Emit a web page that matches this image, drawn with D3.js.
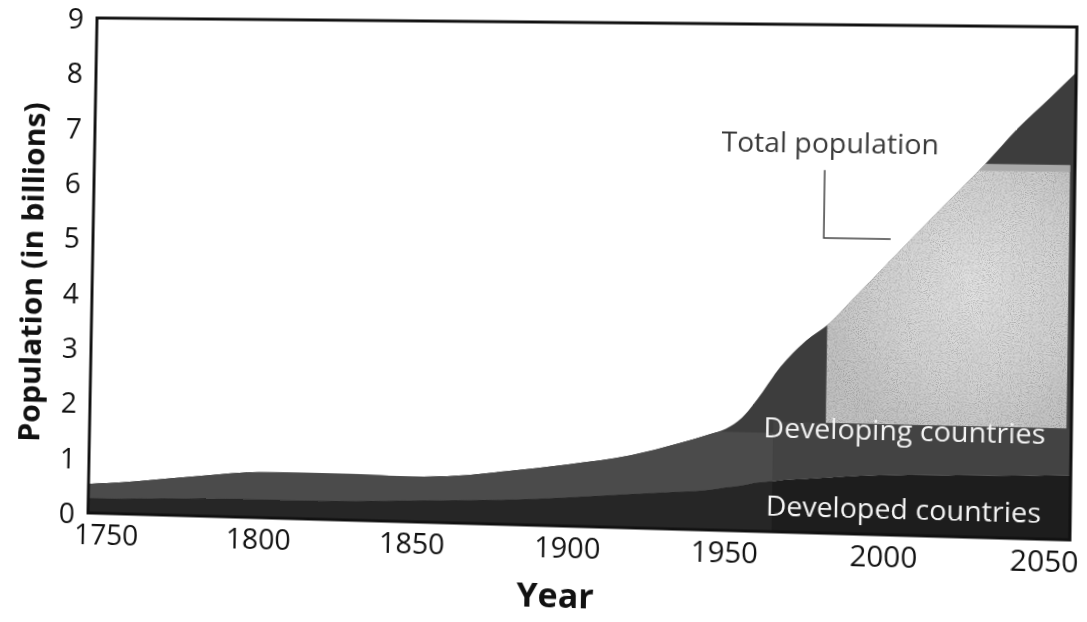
<!DOCTYPE html>
<html>
<head>
<meta charset="utf-8">
<script src="https://cdn.jsdelivr.net/npm/d3@7"></script>
<style>
  html, body { margin: 0; padding: 0; background: #fff; overflow: hidden; }
  #wrap { position: absolute; left: 0; top: 0; width: 1087px; height: 622px; transform-origin: 0 0; }
  svg { display: block; }
  text { font-family: "Open Sans", "Noto Sans", sans-serif; }
</style>
</head>
<body>
<div id="wrap"></div>
<script>
// ---------------- data ----------------
const years = [1744, 1750, 1770, 1785, 1800, 1815, 1830, 1850, 1865, 1880, 1900, 1920, 1935, 1945, 1950,
               1955, 1960, 1963, 1966, 1970, 1975, 1982, 1990, 2000, 2010, 2020, 2030, 2040, 2050, 2058];
const developedValues = [0.27, 0.27, 0.30, 0.32, 0.33, 0.33, 0.34, 0.38, 0.41, 0.44, 0.51, 0.60, 0.66, 0.71, 0.76,
                         0.80, 0.86, 0.88, 0.90, 0.93, 0.95, 0.98, 1.02, 1.05, 1.07, 1.08, 1.09, 1.10, 1.12, 1.13];
const developingValues = [0.26, 0.28, 0.36, 0.43, 0.49, 0.50, 0.49, 0.43, 0.44, 0.51, 0.59, 0.69, 0.86, 0.99, 1.04,
                          1.20, 1.49, 1.72, 1.95, 2.19, 2.45, 2.72, 3.16, 3.73, 4.31, 4.89, 5.47, 6.10, 6.63, 7.07];
const seriesNames = ["Developed countries", "Developing countries"];
const xTickValues = [1750, 1800, 1850, 1900, 1950, 2000, 2050];
const yTickValues = [0, 1, 2, 3, 4, 5, 6, 7, 8, 9];
const xDomain = [1744, 2058];
const yDomain = [0, 9];
const xTitle = "Year";
const yTitle = "Population (in billions)";
const totalLabel = "Total population";

// inset photo (in data units) and shading splits
const insetYears = [1981.5, 2056.5];
const insetValues = [1.95, 6.57];
const insetBandValues = [6.45, 6.57];
const shadeSplitYear = 1965;
const shadeSplitValue = 1.75;
const leaderPoints = [[1980, 6.42], [1980, 5.22], [2001, 5.22]];
const totalLabelPos = [1981.5, 6.73];
const developingLabelPos = [2006, 1.66];
const developedLabelPos = [2006, 0.29];

// ---------------- layout ----------------
const W = 1087, H = 622;
const L = 92, R = 1074, T = 20, B = 527;

const svg = d3.select("#wrap").append("svg").attr("width", W).attr("height", H);

const x = d3.scaleLinear().domain(xDomain).range([L, R]);
const y = d3.scaleLinear().domain(yDomain).range([B, T]);

const table = years.map((yr, i) => ({ year: yr, developed: developedValues[i], developing: developingValues[i] }));
const stack = d3.stack().keys(["developed", "developing"]);
const stacked = stack(table);

const area = d3.area()
  .x(d => x(d.data.year))
  .y0(d => y(d[0]))
  .y1(d => y(d[1]))
  .curve(d3.curveMonotoneX);

const defs = svg.append("defs");
defs.append("clipPath").attr("id", "clipDeveloped")
  .append("path").attr("d", area(stacked[0]));
defs.append("clipPath").attr("id", "clipDeveloping")
  .append("path").attr("d", area(stacked[1]));
defs.append("clipPath").attr("id", "clipTotal")
  .append("path").attr("d", d3.area()
    .x(d => x(d.data.year)).y0(y(0)).y1(d => y(d[1])).curve(d3.curveMonotoneX)(stacked[1]));

const grad = defs.append("radialGradient").attr("id", "insetGrad")
  .attr("cx", "60%").attr("cy", "45%").attr("r", "65%");
grad.append("stop").attr("offset", "0%").attr("stop-color", "#e2e2e2");
grad.append("stop").attr("offset", "60%").attr("stop-color", "#d2d2d2");
grad.append("stop").attr("offset", "100%").attr("stop-color", "#c2c2c2");

const noise = defs.append("filter").attr("id", "grain").attr("x", 0).attr("y", 0).attr("width", 1).attr("height", 1);
noise.append("feTurbulence").attr("type", "fractalNoise").attr("baseFrequency", 0.9).attr("numOctaves", 2).attr("seed", 3).attr("result", "n");
noise.append("feColorMatrix").attr("in", "n").attr("type", "matrix")
  .attr("values", "0 0 0 0 0  0 0 0 0 0  0 0 0 0 0  0 0 0 -1.6 0.9").attr("result", "a");
noise.append("feComposite").attr("in", "a").attr("in2", "SourceGraphic").attr("operator", "in");

const colors = { developed: "#1d1d1d", developing: "#3d3d3d" };

// main areas
svg.append("g").selectAll("path").data(stacked).join("path")
  .attr("d", area)
  .attr("fill", d => colors[d.key]);

// lighter shading to the left of the split year
svg.append("rect")
  .attr("clip-path", "url(#clipDeveloping)")
  .attr("x", x(xDomain[0])).attr("width", x(shadeSplitYear) - x(xDomain[0]))
  .attr("y", y(shadeSplitValue)).attr("height", y(0) - y(shadeSplitValue))
  .attr("fill", "#4b4b4b");
svg.append("rect")
  .attr("clip-path", "url(#clipDeveloped)")
  .attr("x", x(xDomain[0])).attr("width", x(shadeSplitYear) - x(xDomain[0]))
  .attr("y", y(yDomain[1])).attr("height", y(0) - y(yDomain[1]))
  .attr("fill", "#262626");
svg.append("rect")
  .attr("clip-path", "url(#clipDeveloping)")
  .attr("x", x(shadeSplitYear)).attr("width", x(xDomain[1]) - x(shadeSplitYear))
  .attr("y", y(insetValues[0])).attr("height", y(0) - y(insetValues[0]))
  .attr("fill", "#434343");

// inset photo
const inset = svg.append("g").attr("clip-path", "url(#clipTotal)");
inset.append("rect")
  .attr("x", x(insetYears[0])).attr("width", x(insetYears[1]) - x(insetYears[0]))
  .attr("y", y(insetValues[1])).attr("height", y(insetValues[0]) - y(insetValues[1]))
  .attr("fill", "url(#insetGrad)");
inset.append("rect")
  .attr("x", x(insetYears[0])).attr("width", x(insetYears[1]) - x(insetYears[0]))
  .attr("y", y(insetValues[1])).attr("height", y(insetValues[0]) - y(insetValues[1]))
  .attr("fill", "#7a7a7a").attr("filter", "url(#grain)").attr("opacity", 0.35);
inset.append("rect")
  .attr("x", x(insetYears[0])).attr("width", x(insetYears[1]) - x(insetYears[0]))
  .attr("y", y(insetBandValues[1])).attr("height", y(insetBandValues[0]) - y(insetBandValues[1]))
  .attr("fill", "#a9a9a9");

// frame
svg.append("rect")
  .attr("x", L).attr("y", T).attr("width", R - L).attr("height", B - T)
  .attr("fill", "none").attr("stroke", "#111").attr("stroke-width", 3);

// axes (labels only)
const xAxis = svg.append("g").attr("transform", `translate(0,${B})`)
  .call(d3.axisBottom(x).tickValues(xTickValues).tickSize(0).tickPadding(11).tickFormat(d3.format("d")));
xAxis.select(".domain").remove();
xAxis.selectAll("text").attr("font-size", 29).attr("fill", "#111")
  .attr("font-family", "'Open Sans', sans-serif");

const yAxis = svg.append("g").attr("transform", `translate(${L},0)`)
  .call(d3.axisLeft(y).tickValues(yTickValues).tickSize(0).tickFormat(d3.format("d")));
yAxis.select(".domain").remove();
yAxis.selectAll("text").attr("font-size", 29).attr("fill", "#111")
  .attr("font-family", "'Open Sans', sans-serif")
  .attr("text-anchor", "middle").attr("x", -22).attr("dy", "0.36em");

// axis titles
svg.append("text")
  .attr("transform", `translate(${L - 63},${(T + B) / 2 + 8}) rotate(-90)`)
  .attr("text-anchor", "middle").attr("dy", "0.36em")
  .attr("font-size", 31).attr("font-weight", "bold").attr("fill", "#111")
  .text(yTitle);
svg.append("text")
  .attr("x", (L + R) / 2 - 14).attr("y", B + 82)
  .attr("text-anchor", "middle")
  .attr("font-size", 34).attr("font-weight", "bold").attr("fill", "#111")
  .text(xTitle);

// annotations
svg.append("path")
  .attr("d", d3.line().x(d => x(d[0])).y(d => y(d[1]))(leaderPoints))
  .attr("fill", "none").attr("stroke", "#444").attr("stroke-width", 1.5);
svg.append("text")
  .attr("x", x(totalLabelPos[0])).attr("y", y(totalLabelPos[1]))
  .attr("text-anchor", "middle").attr("font-size", 28).attr("fill", "#3a3a3a")
  .text(totalLabel);
svg.append("text")
  .attr("x", x(developingLabelPos[0])).attr("y", y(developingLabelPos[1]))
  .attr("text-anchor", "middle").attr("font-size", 28).attr("fill", "#f4f4f4")
  .text(seriesNames[1]);
svg.append("text")
  .attr("x", x(developedLabelPos[0])).attr("y", y(developedLabelPos[1]))
  .attr("text-anchor", "middle").attr("font-size", 28).attr("fill", "#f4f4f4")
  .text(seriesNames[0]);

// ---------------- scan perspective (page tilt) ----------------
function homography(src, dst) {
  const A = [], b = [];
  for (let i = 0; i < 4; i++) {
    const [sx, sy] = src[i], [u, v] = dst[i];
    A.push([sx, sy, 1, 0, 0, 0, -u * sx, -u * sy]); b.push(u);
    A.push([0, 0, 0, sx, sy, 1, -v * sx, -v * sy]); b.push(v);
  }
  const n = 8;
  for (let c = 0; c < n; c++) {
    let p = c;
    for (let r = c + 1; r < n; r++) if (Math.abs(A[r][c]) > Math.abs(A[p][c])) p = r;
    [A[c], A[p]] = [A[p], A[c]]; [b[c], b[p]] = [b[p], b[c]];
    for (let r = 0; r < n; r++) {
      if (r === c) continue;
      const f = A[r][c] / A[c][c];
      for (let k = c; k < n; k++) A[r][k] -= f * A[c][k];
      b[r] -= f * b[c];
    }
  }
  return b.map((v, i) => v / A[i][i]);
}
const srcQuad = [[L, T], [R, T], [R, B], [L, B]];
const dstQuad = [[97, 18], [1077, 27], [1070, 540], [88, 513]];
const h = homography(srcQuad, dstQuad);
d3.select("#wrap").style("transform",
  `matrix3d(${h[0]},${h[3]},0,${h[6]},${h[1]},${h[4]},0,${h[7]},0,0,1,0,${h[2]},${h[5]},0,1)`);
</script>
</body>
</html>
